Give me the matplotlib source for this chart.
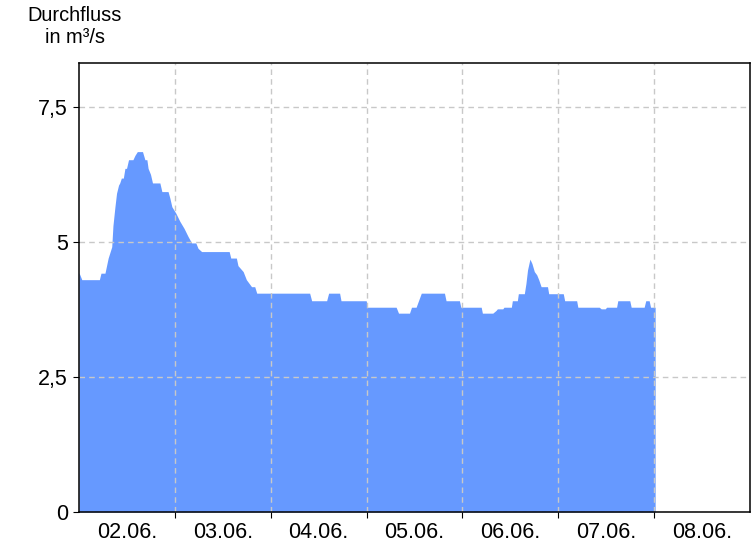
import matplotlib.pyplot as plt
from matplotlib.ticker import FixedLocator, NullFormatter

plt.rcParams['font.family'] = ['Liberation Sans', 'DejaVu Sans']

# hours since 02.06. 00:00 and discharge in m3/s
hours = [0, 0.7, 5.1, 5.5, 6.5, 7.3, 8.2, 8.5, 9.0, 9.4, 9.9, 10.2, 10.6, 11.1,
         11.5, 11.9, 12.4, 13.5, 14, 14.6, 15.9, 16.5, 17, 17.3, 17.9, 18.4,
         20.25, 20.75, 22.3, 22.75, 23.25, 24.25, 25.25, 26.3, 27.3, 28.2,
         29.25, 29.8, 30.7, 37.6, 38, 39.4, 39.8, 41.1, 41.9, 43.2, 44, 44.5,
         57.75, 58.25, 62, 62.5, 65.25, 65.6, 71.9, 72.25, 79.4, 80, 82.75,
         83.25, 84.4, 85, 85.7, 91.5, 91.9, 95.25, 95.6, 100.7, 101, 103.6,
         104.4, 104.75, 106.1, 106.4, 108.25, 108.5, 109.75, 110, 111.5,
         111.9, 112.3, 112.9, 113.4, 114, 114.6, 115.1, 115.7, 117.3, 117.6,
         121.25, 121.6, 124.6, 124.9, 130.25, 130.75, 131.75, 132.1, 134.6,
         134.9, 137.9, 138.25, 141.5, 141.9, 142.75, 143.1, 144.25]
flow = [4.43, 4.30, 4.30, 4.42, 4.42, 4.70, 4.91, 5.30, 5.65, 5.90, 6.05, 6.09,
        6.18, 6.18, 6.36, 6.36, 6.52, 6.52, 6.60, 6.67, 6.67, 6.52, 6.52, 6.36,
        6.25, 6.09, 6.09, 5.93, 5.93, 5.81, 5.65, 5.53, 5.38, 5.25, 5.10, 4.98,
        4.98, 4.88, 4.82, 4.82, 4.70, 4.70, 4.56, 4.45, 4.30, 4.17, 4.17, 4.05,
        4.05, 3.91, 3.91, 4.05, 4.05, 3.91, 3.91, 3.79, 3.79, 3.68, 3.68,
        3.79, 3.79, 3.91, 4.05, 4.05, 3.91, 3.91, 3.79, 3.79, 3.68, 3.68,
        3.73, 3.76, 3.76, 3.79, 3.79, 3.91, 3.91, 4.04, 4.04,
        4.23, 4.48, 4.68, 4.60, 4.45, 4.39, 4.30, 4.17, 4.17, 4.04,
        4.04, 3.91, 3.91, 3.79, 3.79, 3.76, 3.76, 3.79, 3.79,
        3.91, 3.91, 3.79, 3.79, 3.91, 3.91, 3.79, 3.79]

day_labels = ["02.06.", "03.06.", "04.06.", "05.06.", "06.06.", "07.06.", "08.06."]
y_ticks = [0, 2.5, 5, 7.5]
y_labels = ["0", "2,5", "5", "7,5"]

fig = plt.figure(figsize=(7.56, 5.46), dpi=100)
ax = fig.add_axes([79 / 756, 1 - 512 / 546, 671 / 756, 449 / 546])

ax.fill_between(hours, 0, flow, color="#6699ff", linewidth=0, zorder=1)

ax.set_xlim(0, 168)
ax.set_ylim(0, 8.31)

# day boundaries get ticks + grid, labels sit in the middle of each day
ax.xaxis.set_major_locator(FixedLocator([24 * i for i in range(1, 7)]))
ax.xaxis.set_major_formatter(NullFormatter())
ax.xaxis.set_minor_locator(FixedLocator([24 * i + 12 for i in range(7)]))
ax.set_xticklabels(day_labels, minor=True)
ax.tick_params(axis="x", which="minor", length=0, labelsize=15.5, pad=7)
ax.tick_params(axis="x", which="major", length=4, direction="out")

ax.set_yticks(y_ticks)
ax.set_yticklabels(y_labels)
ax.tick_params(axis="y", length=4, direction="out", labelsize=15.5, pad=4)

ax.grid(True, which="major", color="#c8c8c8", linestyle=(0, (4, 3)), linewidth=1)
ax.set_axisbelow(False)
for s in ax.spines.values():
    s.set_linewidth(1.1)
    s.set_zorder(5)

fig.text(75 / 756, 1 - 6 / 546, "Durchfluss\nin m³/s", ha="center", va="top",
         fontsize=14.4, linespacing=1.2)

fig.savefig("out.png", dpi=100)
